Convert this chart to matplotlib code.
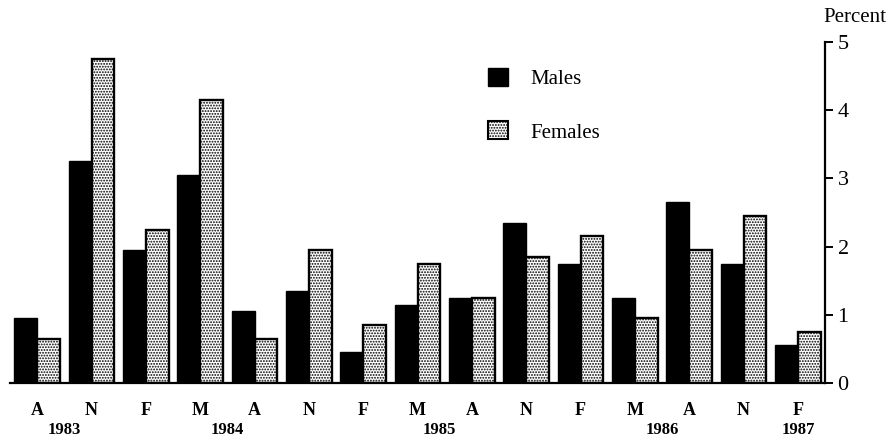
import matplotlib
matplotlib.use("Agg")
import matplotlib.pyplot as plt
import numpy as np
from matplotlib.patches import Patch

# survey months, Apr 1983 .. Feb 1987
months = ["A", "N", "F", "M", "A", "N", "F", "M", "A", "N", "F", "M", "A", "N", "F"]
males = [0.95, 3.25, 1.95, 3.05, 1.05, 1.35, 0.45, 1.15, 1.25, 2.35, 1.75, 1.25, 2.65, 1.75, 0.55]
females = [0.65, 4.75, 2.25, 4.15, 0.65, 1.95, 0.85, 1.75, 1.25, 1.85, 2.15, 0.95, 1.95, 2.45, 0.75]
years = ["1983", "1984", "1985", "1986", "1987"]
year_pos = [0.5, 3.5, 7.4, 11.5, 14.0]

plt.rcParams['font.family'] = ['Liberation Serif', 'DejaVu Serif']
plt.rcParams['hatch.linewidth'] = 0.9

fig = plt.figure(figsize=(8.88, 4.40), dpi=100)
ax = fig.add_axes([10/888, 57/440, 815/888, 341/440])

x = np.arange(len(months))
w = 0.42
ax.bar(x - w/2, males, w, color="black", edgecolor="black", linewidth=1.0)
ax.bar(x + w/2, females, w, color="white", edgecolor="black", linewidth=1.7, hatch="......")

ax.set_xlim(-0.5, len(months) - 0.5)
ax.set_ylim(0, 5)

for s in ["left", "top"]:
    ax.spines[s].set_visible(False)
ax.spines["bottom"].set_linewidth(1.6)
ax.spines["right"].set_linewidth(1.6)

ax.yaxis.tick_right()
ax.set_yticks([0, 1, 2, 3, 4, 5])
ax.tick_params(axis="y", direction="out", length=6, width=1.4, pad=3, labelsize=16)

ax.set_xticks(x)
ax.set_xticklabels(months, fontsize=13, fontweight="bold")
ax.tick_params(axis="x", length=0, pad=14)

for yr, p in zip(years, year_pos):
    ax.text(p, -0.138, yr, transform=ax.get_xaxis_transform(), ha="center", va="center",
            fontsize=12, fontweight="bold")

fig.text(855/888, (440-18)/440, "Percent", ha="center", va="center", fontsize=15)

handles = [Patch(facecolor="black", edgecolor="black", label="Males"),
           Patch(facecolor="white", edgecolor="black", hatch="......", linewidth=1.5, label="Females")]
fig.legend(handles=handles, loc="upper left", bbox_to_anchor=(488/888, (440-68)/440),
           frameon=False, fontsize=15, handlelength=0.95, handleheight=0.95,
           handletextpad=1.1, labelspacing=1.55, borderpad=0, borderaxespad=0)

fig.savefig("out.png", dpi=100)
